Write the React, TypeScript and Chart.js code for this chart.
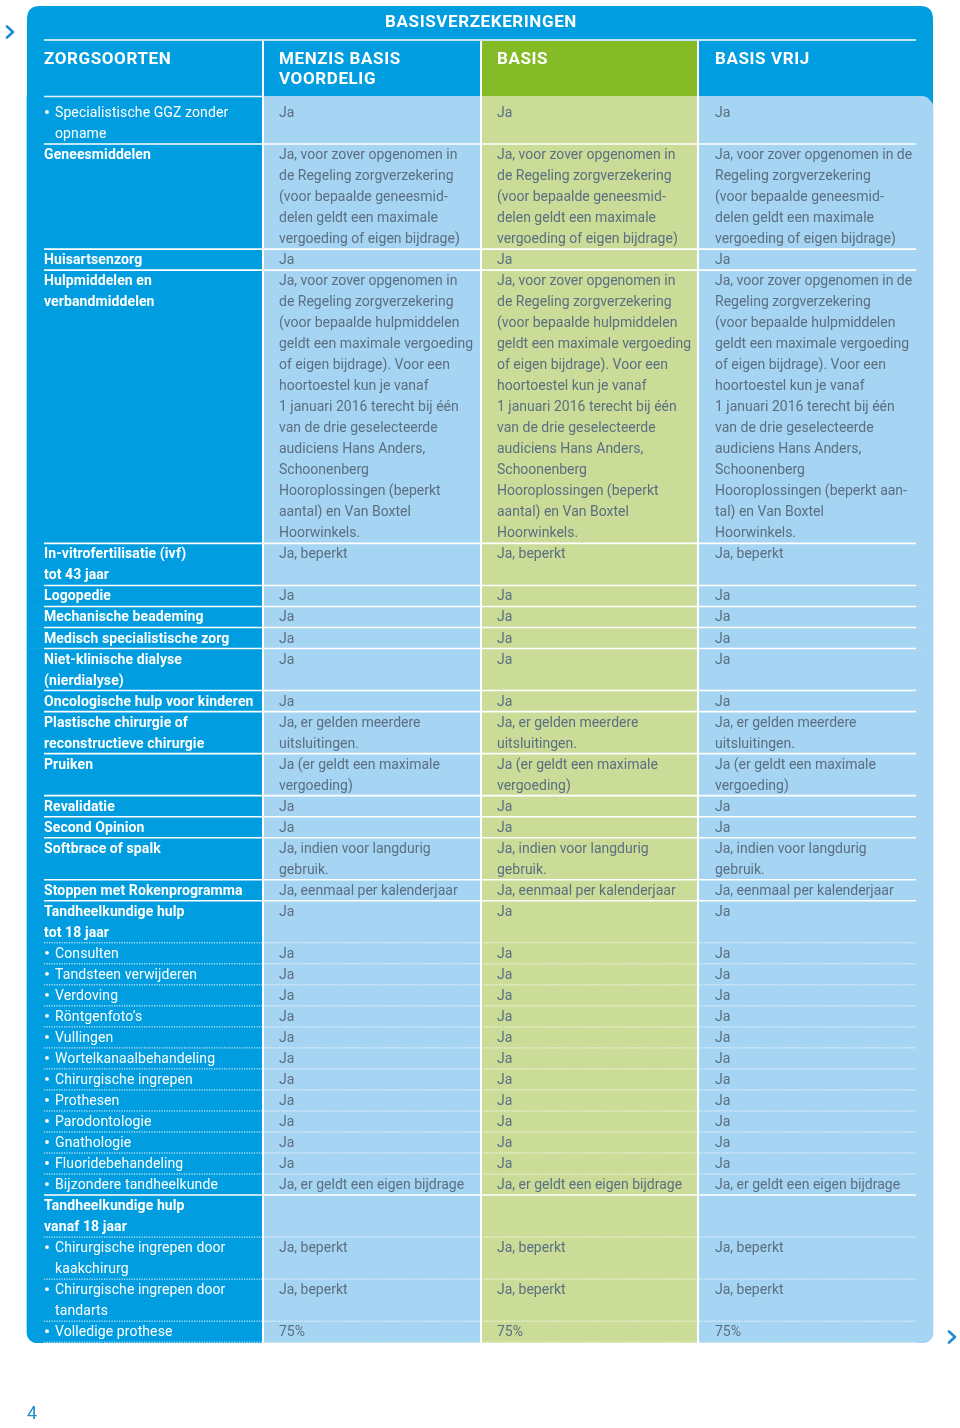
import React, { useEffect, useRef } from "react";
import { Chart, registerables } from "chart.js";

Chart.register(...registerables);

// ---------- DATA ----------
const groupTitle = "BASISVERZEKERINGEN";
const columnHeaders: string[] = ["ZORGSOORTEN", "MENZIS BASIS\nVOORDELIG", "BASIS", "BASIS VRIJ"];

const categories: string[] = [
  "• Specialistische GGZ zonder\nopname",
  "Geneesmiddelen",
  "Huisartsenzorg",
  "Hulpmiddelen en\nverbandmiddelen",
  "In-vitrofertilisatie (ivf)\ntot 43 jaar",
  "Logopedie",
  "Mechanische beademing",
  "Medisch specialistische zorg",
  "Niet-klinische dialyse\n(nierdialyse)",
  "Oncologische hulp voor kinderen",
  "Plastische chirurgie of\nreconstructieve chirurgie",
  "Pruiken",
  "Revalidatie",
  "Second Opinion",
  "Softbrace of spalk",
  "Stoppen met Rokenprogramma",
  "Tandheelkundige hulp\ntot 18 jaar",
  "• Consulten",
  "• Tandsteen verwijderen",
  "• Verdoving",
  "• Röntgenfoto’s",
  "• Vullingen",
  "• Wortelkanaalbehandeling",
  "• Chirurgische ingrepen",
  "• Prothesen",
  "• Parodontologie",
  "• Gnathologie",
  "• Fluoridebehandeling",
  "• Bijzondere tandheelkunde",
  "Tandheelkundige hulp\nvanaf 18 jaar",
  "• Chirurgische ingrepen door\nkaakchirurg",
  "• Chirurgische ingrepen door\ntandarts",
  "• Volledige prothese",
];

const menzisBasisVoordelig: string[] = [
  "Ja",
  "Ja, voor zover opgenomen in\nde Regeling zorgverzekering\n(voor bepaalde geneesmid-\ndelen geldt een maximale\nvergoeding of eigen bijdrage)",
  "Ja",
  "Ja, voor zover opgenomen in\nde Regeling zorgverzekering\n(voor bepaalde hulpmiddelen\ngeldt een maximale vergoeding\nof eigen bijdrage). Voor een\nhoortoestel kun je vanaf\n1 januari 2016 terecht bij één\nvan de drie geselecteerde\naudiciens Hans Anders,\nSchoonenberg\nHooroplossingen (beperkt\naantal) en Van Boxtel\nHoorwinkels.",
  "Ja, beperkt",
  "Ja",
  "Ja",
  "Ja",
  "Ja",
  "Ja",
  "Ja, er gelden meerdere\nuitsluitingen.",
  "Ja (er geldt een maximale\nvergoeding)",
  "Ja",
  "Ja",
  "Ja, indien voor langdurig\ngebruik.",
  "Ja, eenmaal per kalenderjaar",
  "Ja",
  "Ja", "Ja", "Ja", "Ja", "Ja", "Ja", "Ja", "Ja", "Ja", "Ja", "Ja",
  "Ja, er geldt een eigen bijdrage",
  "",
  "Ja, beperkt",
  "Ja, beperkt",
  "75%",
];

const basis: string[] = [
  "Ja",
  "Ja, voor zover opgenomen in\nde Regeling zorgverzekering\n(voor bepaalde geneesmid-\ndelen geldt een maximale\nvergoeding of eigen bijdrage)",
  "Ja",
  "Ja, voor zover opgenomen in\nde Regeling zorgverzekering\n(voor bepaalde hulpmiddelen\ngeldt een maximale vergoeding\nof eigen bijdrage). Voor een\nhoortoestel kun je vanaf\n1 januari 2016 terecht bij één\nvan de drie geselecteerde\naudiciens Hans Anders,\nSchoonenberg\nHooroplossingen (beperkt\naantal) en Van Boxtel\nHoorwinkels.",
  "Ja, beperkt",
  "Ja",
  "Ja",
  "Ja",
  "Ja",
  "Ja",
  "Ja, er gelden meerdere\nuitsluitingen.",
  "Ja (er geldt een maximale\nvergoeding)",
  "Ja",
  "Ja",
  "Ja, indien voor langdurig\ngebruik.",
  "Ja, eenmaal per kalenderjaar",
  "Ja",
  "Ja", "Ja", "Ja", "Ja", "Ja", "Ja", "Ja", "Ja", "Ja", "Ja", "Ja",
  "Ja, er geldt een eigen bijdrage",
  "",
  "Ja, beperkt",
  "Ja, beperkt",
  "75%",
];

const basisVrij: string[] = [
  "Ja",
  "Ja, voor zover opgenomen in de\nRegeling zorgverzekering\n(voor bepaalde geneesmid-\ndelen geldt een maximale\nvergoeding of eigen bijdrage)",
  "Ja",
  "Ja, voor zover opgenomen in de\nRegeling zorgverzekering\n(voor bepaalde hulpmiddelen\ngeldt een maximale vergoeding\nof eigen bijdrage). Voor een\nhoortoestel kun je vanaf\n1 januari 2016 terecht bij één\nvan de drie geselecteerde\naudiciens Hans Anders,\nSchoonenberg\nHooroplossingen (beperkt aan-\ntal) en Van Boxtel\nHoorwinkels.",
  "Ja, beperkt",
  "Ja",
  "Ja",
  "Ja",
  "Ja",
  "Ja",
  "Ja, er gelden meerdere\nuitsluitingen.",
  "Ja (er geldt een maximale\nvergoeding)",
  "Ja",
  "Ja",
  "Ja, indien voor langdurig\ngebruik.",
  "Ja, eenmaal per kalenderjaar",
  "Ja",
  "Ja", "Ja", "Ja", "Ja", "Ja", "Ja", "Ja", "Ja", "Ja", "Ja", "Ja",
  "Ja, er geldt een eigen bijdrage",
  "",
  "Ja, beperkt",
  "Ja, beperkt",
  "75%",
];

const pageNumber = "4";

// ---------- LAYOUT / STYLE ----------
const W = 960;
const H = 1428;
const BODY_TOP = 96;
const BODY_BOTTOM = 1343;
const LINE_H = 21.02;
const COLS = [
  { left: 27, right: 262, textX: 44 },
  { left: 264, right: 480, textX: 279 },
  { left: 482, right: 697, textX: 497 },
  { left: 699, right: 933, textX: 715 },
];
const DARK = "#009ee0";
const LIGHT_BLUE = "#a6d4f3";
const GREEN = "#84bb26";
const LIGHT_GREEN = "#cadc98";
const TEXT_GRAY = "#5b6f80";
const ACCENT = "#1c8ecf";
const FONT = "Roboto";

const columns = [categories, menzisBasisVoordelig, basis, basisVrij];
const nLines = (s: string) => (s === "" ? 1 : s.split("\n").length);

type Row = { start: number; end: number; sub: boolean };
const rows: Row[] = [];
{
  let acc = 0;
  categories.forEach((c, i) => {
    const span = Math.max(...columns.map((col) => nLines(col[i])));
    rows.push({ start: acc, end: acc + span, sub: c.startsWith("• ") });
    acc += span;
  });
}
const Y_MIN = -(102 - BODY_TOP) / LINE_H;
const Y_MAX = Y_MIN + (BODY_BOTTOM - BODY_TOP) / LINE_H;

function roundRect(ctx: CanvasRenderingContext2D, x: number, y: number, w: number, h: number, r: number) {
  ctx.beginPath();
  ctx.moveTo(x + r, y);
  ctx.lineTo(x + w - r, y);
  ctx.quadraticCurveTo(x + w, y, x + w, y + r);
  ctx.lineTo(x + w, y + h);
  ctx.lineTo(x, y + h);
  ctx.lineTo(x, y + r);
  ctx.quadraticCurveTo(x, y, x + r, y);
  ctx.closePath();
}

const tablePlugin = {
  id: "tableDecor",
  beforeDatasetsDraw(chart: any) {
    const ctx: CanvasRenderingContext2D = chart.ctx;
    ctx.save();
    ctx.fillStyle = DARK;
    roundRect(ctx, COLS[0].left, 6, COLS[3].right - COLS[0].left, 130, 13);
    ctx.fill();
    ctx.fillStyle = GREEN;
    ctx.fillRect(COLS[2].left, 41, COLS[2].right - COLS[2].left, BODY_TOP - 41);
    ctx.restore();
  },
  afterDatasetsDraw(chart: any) {
    const ctx: CanvasRenderingContext2D = chart.ctx;
    const y = chart.scales.y;
    ctx.save();
    ctx.strokeStyle = "#c4e6f8";
    ctx.lineWidth = 2;
    ctx.beginPath();
    ctx.moveTo(44, 40);
    ctx.lineTo(916, 40);
    ctx.stroke();
    ctx.strokeStyle = "#ffffff";
    ctx.lineWidth = 2;
    [263, 481, 698].forEach((x) => {
      ctx.beginPath();
      ctx.moveTo(x, 41);
      ctx.lineTo(x, BODY_BOTTOM + 1);
      ctx.stroke();
    });
    ctx.lineWidth = 1.6;
    ctx.strokeStyle = "#e6f5fc";
    ctx.beginPath();
    ctx.moveTo(44, BODY_TOP + 0.5);
    ctx.lineTo(262, BODY_TOP + 0.5);
    ctx.stroke();
    rows.forEach((r, i) => {
      const next = rows[i + 1];
      const dotted = next ? next.sub : r.sub;
      const py = y.getPixelForValue(r.end);
      ctx.beginPath();
      ctx.strokeStyle = "#ffffff";
      if (dotted) {
        ctx.lineWidth = 1;
        ctx.setLineDash([1.2, 1.3]);
      } else {
        ctx.lineWidth = 1.6;
        ctx.setLineDash([]);
      }
      ctx.moveTo(44, py);
      ctx.lineTo(916, py);
      ctx.stroke();
    });
    ctx.setLineDash([]);
    ctx.textBaseline = "middle";
    ctx.textAlign = "left";
    rows.forEach((r, i) => {
      columns.forEach((col, c) => {
        const txt = col[i];
        if (!txt) return;
        let lines = txt.split("\n");
        let x = COLS[c].textX;
        if (c === 0) {
          ctx.font = `bold 14px ${FONT}`;
          (ctx as any).letterSpacing = "0.1px";
          ctx.fillStyle = "#ffffff";
          if (r.sub) {
            lines = [lines[0].slice(2), ...lines.slice(1)];
            ctx.beginPath();
            ctx.arc(47, y.getPixelForValue(r.start + 0.5) - 0.5, 1.9, 0, Math.PI * 2);
            ctx.fill();
            ctx.font = `14px ${FONT}`;
            (ctx as any).letterSpacing = "0.1px";
            x = 55;
          }
        } else {
          ctx.font = `14px ${FONT}`;
          (ctx as any).letterSpacing = "0px";
          ctx.fillStyle = TEXT_GRAY;
        }
        lines.forEach((ln, k) => {
          ctx.fillText(ln, x, y.getPixelForValue(r.start + k + 0.5) + 1);
        });
      });
    });
    (ctx as any).letterSpacing = "0px";
    ctx.restore();
  },
  afterDraw(chart: any) {
    const ctx: CanvasRenderingContext2D = chart.ctx;
    ctx.save();
    ctx.fillStyle = "#ffffff";
    ctx.textBaseline = "middle";
    ctx.font = `bold 17px ${FONT}`;
    (ctx as any).letterSpacing = "0.6px";
    ctx.textAlign = "center";
    ctx.fillText(groupTitle, 481, 23);
    ctx.textAlign = "left";
    columnHeaders.forEach((h, c) => {
      h.split("\n").forEach((ln, k) => {
        ctx.fillText(ln, COLS[c].textX, 59.5 + k * 20);
      });
    });
    (ctx as any).letterSpacing = "0px";
    ctx.strokeStyle = ACCENT;
    ctx.lineWidth = 2.6;
    ctx.lineCap = "round";
    ctx.lineJoin = "round";
    const chevron = (x: number, yy: number) => {
      ctx.beginPath();
      ctx.moveTo(x, yy - 5.5);
      ctx.lineTo(x + 6, yy);
      ctx.lineTo(x, yy + 5.5);
      ctx.stroke();
    };
    chevron(7, 32);
    chevron(949, 1337);
    ctx.fillStyle = ACCENT;
    ctx.font = `18px ${FONT}`;
    ctx.fillText(pageNumber, 27, 1414);
    ctx.restore();
  },
};

export default function App() {
  const ref = useRef<HTMLCanvasElement | null>(null);
  useEffect(() => {
    document.body.style.margin = "0";
    const canvas = ref.current;
    if (!canvas) return;
    const last = rows.length - 1;
    const fills = [DARK, LIGHT_BLUE, LIGHT_GREEN, LIGHT_BLUE];
    const datasets = COLS.map((col, c) => ({
      label: columnHeaders[c].replace("\n", " "),
      data: rows.map((r, i) => ({
        x: (col.left + col.right) / 2,
        y: [i === 0 ? Y_MIN : r.start, i === last ? Y_MAX : r.end],
      })),
      backgroundColor: fills[c],
      barThickness: col.right - col.left,
      grouped: false,
      borderWidth: 0,
      borderSkipped: false as any,
      borderRadius: (ctx: any) => {
        const i = ctx.dataIndex;
        if (c === 3 && i === 0) return { topLeft: 0, topRight: 13, bottomLeft: 0, bottomRight: 0 };
        if (c === 3 && i === last) return { topLeft: 0, topRight: 0, bottomLeft: 0, bottomRight: 13 };
        if (c === 0 && i === last) return { topLeft: 0, topRight: 0, bottomLeft: 13, bottomRight: 0 };
        return 0;
      },
    }));
    const chart = new Chart(canvas, {
      type: "bar",
      data: { datasets: datasets as any },
      options: {
        animation: false,
        responsive: false,
        devicePixelRatio: 1,
        layout: { padding: { top: BODY_TOP, bottom: H - BODY_BOTTOM, left: 0, right: 0 } },
        scales: {
          x: { type: "linear", min: 0, max: W, offset: false, display: false },
          y: { type: "linear", min: Y_MIN, max: Y_MAX, reverse: true, display: false },
        },
        plugins: { legend: { display: false }, tooltip: { enabled: false } },
      },
      plugins: [tablePlugin],
    });
    return () => chart.destroy();
  }, []);
  return (
    <div style={{ width: W, height: H, background: "#ffffff" }}>
      <canvas ref={ref} width={W} height={H} style={{ display: "block" }} />
    </div>
  );
}
